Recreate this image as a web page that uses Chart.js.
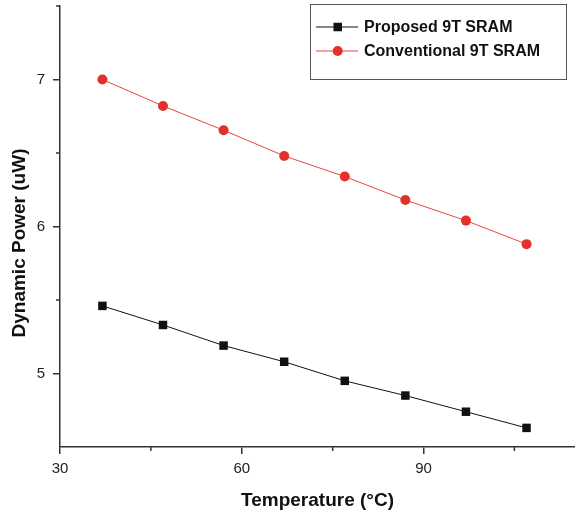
<!DOCTYPE html>
<html>
<head>
<meta charset="utf-8">
<script src="https://cdn.jsdelivr.net/npm/chart.js@4"></script>
<style>
  body { margin: 0; background: #fff; }
</style>
</head>
<body>
<canvas id="chart" width="575" height="514"></canvas>
<script>
const temperature = [37, 47, 57, 67, 77, 87, 97, 107];
const proposed = [5.46, 5.33, 5.19, 5.08, 4.95, 4.85, 4.74, 4.63];
const conventional = [7.00, 6.82, 6.655, 6.48, 6.34, 6.18, 6.04, 5.88];
const xTicks = [30, 60, 90];
const yTicks = [5, 6, 7];
const xMinor = [45, 75, 105];
const yMinor = [5.5, 6.5, 7.5];
const yTitle = "Dynamic Power (uW)";

const font = "'Liberation Sans', Arial, sans-serif";
const axisColor = "#333";

const extras = {
  id: "extras",
  afterDraw(chart) {
    const { ctx, scales: { x, y } } = chart;
    ctx.save();
    ctx.strokeStyle = axisColor;
    ctx.lineWidth = 1.5;
    xMinor.forEach(v => {
      const px = x.getPixelForValue(v);
      ctx.beginPath();
      ctx.moveTo(px, x.top);
      ctx.lineTo(px, x.top + 4);
      ctx.stroke();
    });
    yMinor.forEach(v => {
      const py = y.getPixelForValue(v);
      ctx.beginPath();
      ctx.moveTo(y.right - 4, py);
      ctx.lineTo(y.right, py);
      ctx.stroke();
    });

    // y title, sits a bit below the axis centre in the original
    ctx.save();
    ctx.translate(20, 243);
    ctx.rotate(-Math.PI / 2);
    ctx.font = "bold 19px " + font;
    ctx.fillStyle = "#111";
    ctx.textAlign = "center";
    ctx.textBaseline = "middle";
    ctx.fillText(yTitle, 0, 0);
    ctx.restore();

    // legend box
    ctx.lineWidth = 1;
    ctx.strokeStyle = "#555";
    ctx.strokeRect(310.5, 4.5, 256, 75);
    ctx.font = "bold 16px " + font;
    ctx.textBaseline = "middle";
    chart.data.datasets.forEach((ds, i) => {
      const ly = 27 + i * 24;
      ctx.strokeStyle = ds.borderColor;
      ctx.beginPath();
      ctx.moveTo(316, ly);
      ctx.lineTo(358, ly);
      ctx.stroke();
      ctx.fillStyle = ds.pointBackgroundColor;
      if (ds.pointStyle === "rect") {
        ctx.fillRect(333.5, ly - 4.25, 8.5, 8.5);
      } else {
        ctx.beginPath();
        ctx.arc(337.7, ly, 5, 0, Math.PI * 2);
        ctx.fill();
      }
      ctx.fillStyle = "#111";
      ctx.fillText(ds.label, 364, ly + 1);
    });
    ctx.restore();
  }
};

new Chart(document.getElementById("chart"), {
  type: "line",
  data: {
    datasets: [{
      label: "Proposed 9T SRAM",
      data: temperature.map((t, i) => ({ x: t, y: proposed[i] })),
      borderColor: "#111",
      borderWidth: 1,
      pointStyle: "rect",
      pointRadius: 6,
      pointBackgroundColor: "#111",
      pointBorderWidth: 0
    }, {
      label: "Conventional 9T SRAM",
      data: temperature.map((t, i) => ({ x: t, y: conventional[i] })),
      borderColor: "#e8463e",
      borderWidth: 1,
      pointStyle: "circle",
      pointRadius: 5,
      pointBackgroundColor: "#e2312a",
      pointBorderWidth: 0
    }]
  },
  options: {
    responsive: false,
    animation: false,
    clip: false,
    layout: { autoPadding: false, padding: { top: 6, right: 0, left: 0, bottom: 0 } },
    plugins: { legend: { display: false }, tooltip: { enabled: false } },
    scales: {
      x: {
        type: "linear",
        min: 30,
        max: 115,
        afterBuildTicks: s => { s.ticks = xTicks.map(v => ({ value: v })); },
        afterFit: s => { s.height = 67; s.paddingLeft = 0; s.paddingRight = 0; },
        grid: { drawOnChartArea: false, tickLength: 7, color: axisColor, lineWidth: 1.5 },
        border: { color: axisColor, width: 1.5 },
        ticks: { color: "#222", font: { family: font, size: 15 }, padding: 6, maxRotation: 0 },
        title: {
          display: true,
          text: "Temperature (°C)",
          color: "#111",
          font: { family: font, size: 19, weight: "bold" },
          padding: { top: 0, bottom: 2 }
        }
      },
      y: {
        min: 4.5,
        max: 7.5,
        afterBuildTicks: s => { s.ticks = yTicks.map(v => ({ value: v })); },
        afterFit: s => { s.width = 60; s.paddingTop = 0; s.paddingBottom = 0; },
        grid: { drawOnChartArea: false, tickLength: 7, color: axisColor, lineWidth: 1.5 },
        border: { color: axisColor, width: 1.5 },
        ticks: { color: "#222", font: { family: font, size: 15 }, padding: 8 }
      }
    }
  },
  plugins: [extras]
});
</script>
</body>
</html>
